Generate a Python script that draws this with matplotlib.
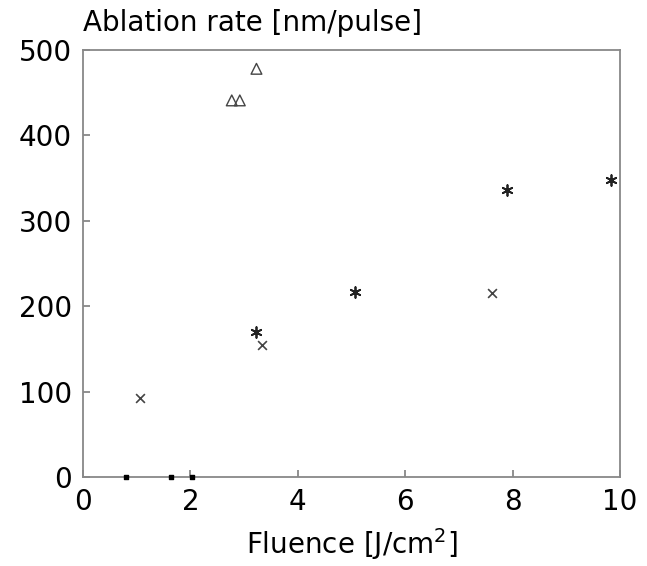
import matplotlib
matplotlib.use("Agg")
import matplotlib.pyplot as plt

plt.rcParams["font.family"] = ["DejaVu Sans"]
plt.rcParams["font.size"] = 20

# 三角形数据
tri_x = [3.23, 2.77, 2.92]
tri_y = [478, 441, 441]

# 叉号数据
cross_x = [1.06, 3.33, 7.62]
cross_y = [92, 155, 215]

# 星号数据
star_x = [3.23, 5.06, 7.9, 9.83]
star_y = [170, 217, 336, 348]

# 零值点
zero_x = [0.8, 1.64, 2.03]
zero_y = [0, 0, 0]

fig = plt.figure(figsize=(6.47, 5.66), dpi=100)
ax = fig.add_axes([83 / 647, 1 - 477 / 566, (620 - 83) / 647, (477 - 50) / 566])

ax.scatter(tri_x, tri_y, marker="^", s=60, facecolors="none",
           edgecolors="#444444", linewidths=1.0, clip_on=False)
ax.scatter(cross_x, cross_y, marker="x", s=40, color="#444444",
           linewidths=1.2, clip_on=False)
ax.scatter(star_x, star_y, marker=(6, 2, 0), s=60, color="#222222",
           linewidths=1.3, clip_on=False)
ax.scatter(zero_x, zero_y, marker="s", s=10, color="black",
           clip_on=False, zorder=5)

ax.set_xlim(0, 10)
ax.set_ylim(0, 500)
ax.set_xticks([0, 2, 4, 6, 8, 10])
ax.set_yticks([0, 100, 200, 300, 400, 500])

for s in ax.spines.values():
    s.set_color("#888888")
    s.set_linewidth(1.3)
ax.tick_params(direction="in", length=5, color="#888888", width=1.3, pad=8)

ax.set_xlabel(r"Fluence [J/cm$^2$]", labelpad=7)
fig.text(83 / 647, 1 - 23 / 566, "Ablation rate [nm/pulse]", ha="left",
         va="center", fontsize=20)

fig.savefig("out.png", dpi=100)
